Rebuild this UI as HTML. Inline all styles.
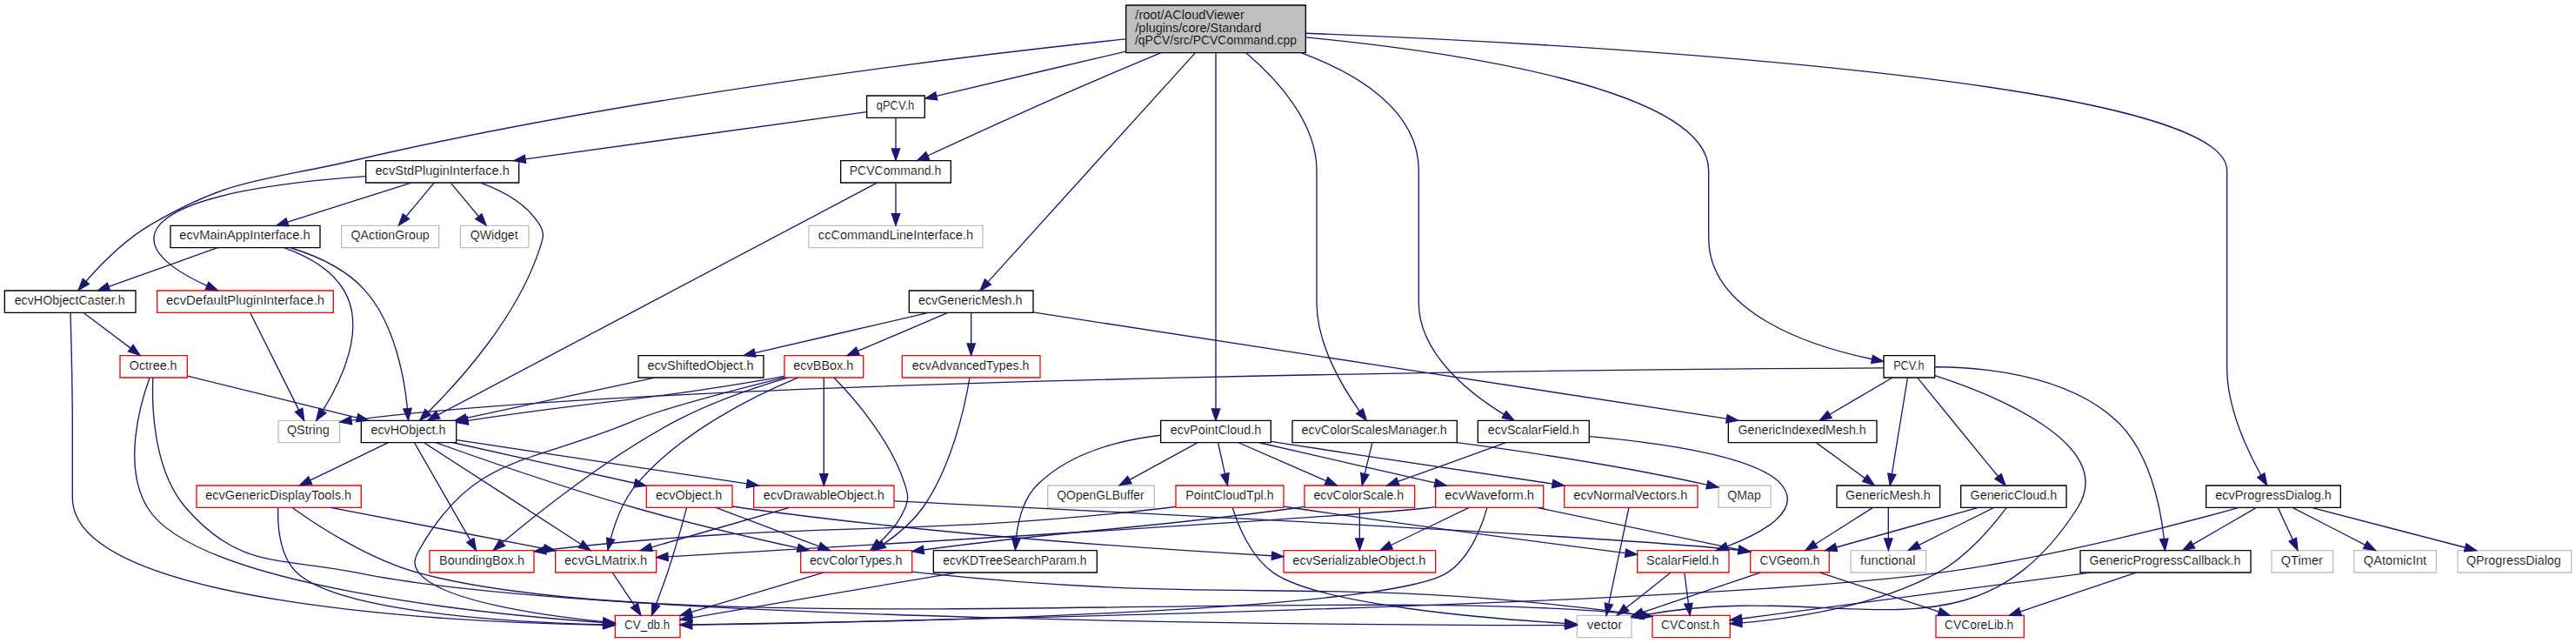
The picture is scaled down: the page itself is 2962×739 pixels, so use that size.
<!DOCTYPE html>
<html><head><meta charset="utf-8"><title>PCVCommand.cpp include graph</title>
<style>
html,body{margin:0;padding:0;background:#fff;}
body{width:2962px;height:739px;overflow:hidden;}
svg{display:block;}
svg text{font-family:"Liberation Sans",sans-serif;font-size:10.5px;fill:#000;stroke:#fff;stroke-width:0.14;}
svg g.r text{stroke:#bfbfbf;}
</style></head><body>
<svg width="2962" height="739" viewBox="0 0 2221.5 554.25">
<g transform="scale(1 1) rotate(0) translate(4 550)">
<polygon fill="white" stroke="none" points="-4,4 -4,-550 2217.5,-550 2217.5,4 -4,4"/>
<g class="r">
<polygon fill="#bfbfbf" stroke="black" points="967,-504.5 967,-545.5 1122,-545.5 1122,-504.5 967,-504.5"/>
<text text-anchor="start" x="975.00" y="-533.5" textLength="94.07" lengthAdjust="spacingAndGlyphs">/root/ACloudViewer</text>
<text text-anchor="start" x="975.00" y="-522.5" textLength="108.72" lengthAdjust="spacingAndGlyphs">/plugins/core/Standard</text>
<text text-anchor="middle" x="1044.50" y="-511.5" textLength="139.51" lengthAdjust="spacingAndGlyphs">/qPCV/src/PCVCommand.cpp</text>
</g>
<g>
<polygon fill="white" stroke="black" points="721,-392.5 721,-411.5 816,-411.5 816,-392.5 721,-392.5"/>
<text text-anchor="middle" x="768.12" y="-399.5" textLength="79.25" lengthAdjust="spacingAndGlyphs">PCVCommand.h</text>
</g>
<g>
<path fill="none" stroke="midnightblue" d="M997.27,-504.49C971.79,-493.88 939.84,-480.41 911.5,-468 871.27,-450.39 825.08,-429.22 796.34,-415.93"/>
<polygon fill="midnightblue" stroke="midnightblue" points="797.48,-412.61 786.94,-411.58 794.54,-418.96 797.48,-412.61"/>
</g>
<g>
<polygon fill="white" stroke="black" points="1620.5,-224.5 1620.5,-243.5 1664.5,-243.5 1664.5,-224.5 1620.5,-224.5"/>
<text text-anchor="middle" x="1642.12" y="-231.5" textLength="26.54" lengthAdjust="spacingAndGlyphs">PCV.h</text>
</g>
<g>
<path fill="none" stroke="midnightblue" d="M1122.45,-517.81C1245.15,-505.89 1469.5,-474.35 1469.5,-403 1469.5,-403 1469.5,-403 1469.5,-345 1469.5,-279.04 1560.16,-250.93 1610.22,-240.44"/>
<polygon fill="midnightblue" stroke="midnightblue" points="1611.11,-243.83 1620.24,-238.46 1609.75,-236.97 1611.11,-243.83"/>
</g>
<g>
<polygon fill="white" stroke="black" points="743.5,-448.5 743.5,-467.5 793.5,-467.5 793.5,-448.5 743.5,-448.5"/>
<text text-anchor="middle" x="768.12" y="-455.5" textLength="32.71" lengthAdjust="spacingAndGlyphs">qPCV.h</text>
</g>
<g>
<path fill="none" stroke="midnightblue" d="M966.88,-505.72C913.23,-493.09 844.42,-476.88 803.54,-467.25"/>
<polygon fill="midnightblue" stroke="midnightblue" points="804.31,-463.84 793.78,-464.95 802.71,-470.65 804.31,-463.84"/>
</g>
<g>
<polygon fill="white" stroke="black" points="0,-280.5 0,-299.5 113,-299.5 113,-280.5 0,-280.5"/>
<text text-anchor="middle" x="56.12" y="-287.5" textLength="95.25" lengthAdjust="spacingAndGlyphs">ecvHObjectCaster.h</text>
</g>
<g>
<path fill="none" stroke="midnightblue" d="M966.84,-516.33C830.94,-502.01 541.71,-467.54 302.5,-412 222.13,-393.34 196.65,-397.78 125.5,-356 103.67,-343.18 83.17,-322.3 70.27,-307.68"/>
<polygon fill="midnightblue" stroke="midnightblue" points="72.77,-305.21 63.61,-299.89 67.45,-309.77 72.77,-305.21"/>
</g>
<g>
<polygon fill="white" stroke="black" points="1110.5,-168.5 1110.5,-187.5 1252.5,-187.5 1252.5,-168.5 1110.5,-168.5"/>
<text text-anchor="middle" x="1181.12" y="-175.5" textLength="125.39" lengthAdjust="spacingAndGlyphs">ecvColorScalesManager.h</text>
</g>
<g>
<path fill="none" stroke="midnightblue" d="M1070.6,-504.39C1096.23,-482.7 1131.5,-445.17 1131.5,-403 1131.5,-403 1131.5,-403 1131.5,-289 1131.5,-253.18 1153.74,-216.21 1168.55,-195.56"/>
<polygon fill="midnightblue" stroke="midnightblue" points="1171.38,-197.63 1174.55,-187.52 1165.77,-193.45 1171.38,-197.63"/>
</g>
<g>
<polygon fill="white" stroke="black" points="780,-280.5 780,-299.5 887,-299.5 887,-280.5 780,-280.5"/>
<text text-anchor="middle" x="832.75" y="-287.5" textLength="89.61" lengthAdjust="spacingAndGlyphs">ecvGenericMesh.h</text>
</g>
<g>
<path fill="none" stroke="midnightblue" d="M1026.51,-504.13C985.49,-458.83 885.67,-348.61 848.11,-307.13"/>
<polygon fill="midnightblue" stroke="midnightblue" points="850.58,-304.65 841.28,-299.59 845.39,-309.35 850.58,-304.65"/>
</g>
<g>
<polygon fill="white" stroke="black" points="997,-168.5 997,-187.5 1092,-187.5 1092,-168.5 997,-168.5"/>
<text text-anchor="middle" x="1044.50" y="-175.5" textLength="78.23" lengthAdjust="spacingAndGlyphs">ecvPointCloud.h</text>
</g>
<g>
<path fill="none" stroke="midnightblue" d="M1044.5,-504.3C1044.5,-480.35 1044.5,-438.71 1044.5,-403 1044.5,-403 1044.5,-403 1044.5,-289 1044.5,-256.95 1044.5,-219.64 1044.5,-197.75"/>
<polygon fill="midnightblue" stroke="midnightblue" points="1048,-197.56 1044.5,-187.56 1041,-197.56 1048,-197.56"/>
</g>
<g>
<polygon fill="white" stroke="black" points="1898.5,-112.5 1898.5,-131.5 2014.5,-131.5 2014.5,-112.5 1898.5,-112.5"/>
<text text-anchor="middle" x="1956.50" y="-119.5" textLength="100.27" lengthAdjust="spacingAndGlyphs">ecvProgressDialog.h</text>
</g>
<g>
<path fill="none" stroke="midnightblue" d="M1122.27,-521.32C1335.99,-512.94 1916.5,-482.81 1916.5,-403 1916.5,-403 1916.5,-403 1916.5,-233 1916.5,-198.62 1933.97,-161.63 1945.82,-140.5"/>
<polygon fill="midnightblue" stroke="midnightblue" points="1948.92,-142.13 1950.94,-131.73 1942.88,-138.61 1948.92,-142.13"/>
</g>
<g>
<polygon fill="white" stroke="black" points="1270.5,-168.5 1270.5,-187.5 1366.5,-187.5 1366.5,-168.5 1270.5,-168.5"/>
<text text-anchor="middle" x="1318.50" y="-175.5" textLength="78.89" lengthAdjust="spacingAndGlyphs">ecvScalarField.h</text>
</g>
<g>
<path fill="none" stroke="midnightblue" d="M1117.96,-504.5C1165.85,-486.83 1219.5,-455.36 1219.5,-403 1219.5,-403 1219.5,-403 1219.5,-289 1219.5,-245.18 1263.44,-210.93 1292.77,-192.94"/>
<polygon fill="midnightblue" stroke="midnightblue" points="1294.86,-195.77 1301.71,-187.68 1291.31,-189.74 1294.86,-195.77"/>
</g>
<g>
<polygon fill="white" stroke="#bfbfbf" points="693.5,-336.5 693.5,-355.5 843.5,-355.5 843.5,-336.5 693.5,-336.5"/>
<text text-anchor="middle" x="768.49" y="-343.5" textLength="133.67" lengthAdjust="spacingAndGlyphs">ccCommandLineInterface.h</text>
</g>
<g>
<path fill="none" stroke="midnightblue" d="M768.5,-392.08C768.5,-385.01 768.5,-374.86 768.5,-365.99"/>
<polygon fill="midnightblue" stroke="midnightblue" points="772,-365.75 768.5,-355.75 765,-365.75 772,-365.75"/>
</g>
<g>
<polygon fill="white" stroke="black" points="307.5,-168.5 307.5,-187.5 389.5,-187.5 389.5,-168.5 307.5,-168.5"/>
<text text-anchor="middle" x="348.12" y="-175.5" textLength="64.55" lengthAdjust="spacingAndGlyphs">ecvHObject.h</text>
</g>
<g>
<path fill="none" stroke="midnightblue" d="M752.29,-392.43C688.25,-358.58 452.48,-233.96 374.06,-192.51"/>
<polygon fill="midnightblue" stroke="midnightblue" points="375.36,-189.24 364.89,-187.66 372.09,-195.43 375.36,-189.24"/>
</g>
<g>
<polygon fill="white" stroke="red" points="366.5,-56.5 366.5,-75.5 456.5,-75.5 456.5,-56.5 366.5,-56.5"/>
<text text-anchor="middle" x="411.50" y="-63.5" textLength="73.46" lengthAdjust="spacingAndGlyphs">BoundingBox.h</text>
</g>
<g>
<path fill="none" stroke="midnightblue" d="M353.44,-168.37C363.79,-150.3 387.92,-108.18 401.59,-84.31"/>
<polygon fill="midnightblue" stroke="midnightblue" points="404.65,-86.01 406.58,-75.59 398.57,-82.53 404.65,-86.01"/>
</g>
<g>
<polygon fill="white" stroke="red" points="686.5,-56.5 686.5,-75.5 782.5,-75.5 782.5,-56.5 686.5,-56.5"/>
<text text-anchor="middle" x="734.12" y="-63.5" textLength="79.85" lengthAdjust="spacingAndGlyphs">ecvColorTypes.h</text>
</g>
<g>
<path fill="none" stroke="midnightblue" d="M372.13,-168.42C408.75,-155.29 481.56,-129.85 544.5,-112 591.35,-98.71 645.45,-86.17 683.91,-77.71"/>
<polygon fill="midnightblue" stroke="midnightblue" points="684.81,-81.1 693.83,-75.55 683.32,-74.26 684.81,-81.1"/>
</g>
<g>
<polygon fill="white" stroke="red" points="646,-112.5 646,-131.5 767,-131.5 767,-112.5 646,-112.5"/>
<text text-anchor="middle" x="706.50" y="-119.5" textLength="104.18" lengthAdjust="spacingAndGlyphs">ecvDrawableObject.h</text>
</g>
<g>
<path fill="none" stroke="midnightblue" d="M389.57,-170.81C450.79,-161.57 566.62,-144.1 640.01,-133.03"/>
<polygon fill="midnightblue" stroke="midnightblue" points="640.71,-136.46 650.08,-131.51 639.67,-129.54 640.71,-136.46"/>
</g>
<g>
<polygon fill="white" stroke="red" points="475,-56.5 475,-75.5 562,-75.5 562,-56.5 475,-56.5"/>
<text text-anchor="middle" x="518.49" y="-63.5" textLength="71.38" lengthAdjust="spacingAndGlyphs">ecvGLMatrix.h</text>
</g>
<g>
<path fill="none" stroke="midnightblue" d="M361.84,-168.37C391.01,-149.49 460.72,-104.38 496.5,-81.24"/>
<polygon fill="midnightblue" stroke="midnightblue" points="498.73,-83.96 505.22,-75.59 494.93,-78.09 498.73,-83.96"/>
</g>
<g>
<polygon fill="white" stroke="red" points="165.5,-112.5 165.5,-131.5 307.5,-131.5 307.5,-112.5 165.5,-112.5"/>
<text text-anchor="middle" x="236.12" y="-119.5" textLength="126.04" lengthAdjust="spacingAndGlyphs">ecvGenericDisplayTools.h</text>
</g>
<g>
<path fill="none" stroke="midnightblue" d="M330.51,-168.32C312.46,-159.62 284.45,-146.12 263.7,-136.11"/>
<polygon fill="midnightblue" stroke="midnightblue" points="264.98,-132.84 254.45,-131.65 261.94,-139.15 264.98,-132.84"/>
</g>
<g>
<polygon fill="white" stroke="red" points="553.5,-112.5 553.5,-131.5 627.5,-131.5 627.5,-112.5 553.5,-112.5"/>
<text text-anchor="middle" x="590.12" y="-119.5" textLength="57.24" lengthAdjust="spacingAndGlyphs">ecvObject.h</text>
</g>
<g>
<path fill="none" stroke="midnightblue" d="M386.85,-168.44C429.22,-158.99 497.5,-143.75 543.18,-133.56"/>
<polygon fill="midnightblue" stroke="midnightblue" points="544.13,-136.93 553.13,-131.34 542.61,-130.1 544.13,-136.93"/>
</g>
<g>
<polygon fill="white" stroke="red" points="526.5,-0.5 526.5,-19.5 582.5,-19.5 582.5,-0.5 526.5,-0.5"/>
<text text-anchor="middle" x="554.12" y="-7.5" textLength="39.14" lengthAdjust="spacingAndGlyphs">CV_db.h</text>
</g>
<g>
<path fill="none" stroke="midnightblue" d="M705.98,-56.44C675.34,-47.25 626.51,-32.6 592.6,-22.43"/>
<polygon fill="midnightblue" stroke="midnightblue" points="593.18,-18.95 582.59,-19.43 591.16,-25.65 593.18,-18.95"/>
</g>
<g>
<polygon fill="white" stroke="red" points="1421,-0.5 1421,-19.5 1488,-19.5 1488,-0.5 1421,-0.5"/>
<text text-anchor="middle" x="1453.75" y="-7.5" textLength="50.45" lengthAdjust="spacingAndGlyphs">CVConst.h</text>
</g>
<g>
<path fill="none" stroke="midnightblue" d="M782.56,-57.18C785.92,-56.74 789.26,-56.34 792.5,-56 1063.62,-27.16 1137.19,-56.3 1410.43,-20.09"/>
<polygon fill="midnightblue" stroke="midnightblue" points="1411.21,-23.52 1420.65,-18.72 1410.28,-16.58 1411.21,-23.52"/>
</g>
<g>
<path fill="none" stroke="midnightblue" d="M676.71,-112.44C644.67,-103.24 593.57,-88.56 558.15,-78.39"/>
<polygon fill="midnightblue" stroke="midnightblue" points="558.73,-74.91 548.15,-75.52 556.79,-81.64 558.73,-74.91"/>
</g>
<g>
<polygon fill="white" stroke="red" points="1505.5,-56.5 1505.5,-75.5 1573.5,-75.5 1573.5,-56.5 1505.5,-56.5"/>
<text text-anchor="middle" x="1539.50" y="-63.5" textLength="51.61" lengthAdjust="spacingAndGlyphs">CVGeom.h</text>
</g>
<g>
<path fill="none" stroke="midnightblue" d="M767.24,-118.07C933.72,-109.95 1391.31,-87.14 1495.38,-75.83"/>
<polygon fill="midnightblue" stroke="midnightblue" points="1495.8,-79.3 1505.31,-74.64 1494.97,-72.35 1495.8,-79.3"/>
</g>
<g>
<path fill="none" stroke="midnightblue" d="M524.44,-56.08C529.48,-48.53 536.84,-37.49 543.01,-28.23"/>
<polygon fill="midnightblue" stroke="midnightblue" points="546.03,-30.01 548.67,-19.75 540.21,-26.13 546.03,-30.01"/>
</g>
<g>
<polygon fill="white" stroke="red" points="1665.5,-0.5 1665.5,-19.5 1741.5,-19.5 1741.5,-0.5 1665.5,-0.5"/>
<text text-anchor="middle" x="1702.75" y="-7.5" textLength="59.47" lengthAdjust="spacingAndGlyphs">CVCoreLib.h</text>
</g>
<g>
<path fill="none" stroke="midnightblue" d="M1565.49,-56.44C1593.2,-47.32 1637.25,-32.81 1668.12,-22.65"/>
<polygon fill="midnightblue" stroke="midnightblue" points="1669.23,-25.97 1677.64,-19.52 1667.04,-19.32 1669.23,-25.97"/>
</g>
<g>
<polygon fill="white" stroke="#bfbfbf" points="1356,-0.5 1356,-19.5 1403,-19.5 1403,-0.5 1356,-0.5"/>
<text text-anchor="middle" x="1379.88" y="-7.5" textLength="30.08" lengthAdjust="spacingAndGlyphs">vector</text>
</g>
<g>
<path fill="none" stroke="midnightblue" d="M1514.15,-56.44C1486.76,-47.2 1442.99,-32.43 1412.83,-22.25"/>
<polygon fill="midnightblue" stroke="midnightblue" points="1413.76,-18.87 1403.17,-18.99 1411.52,-25.5 1413.76,-18.87"/>
</g>
<g>
<path fill="none" stroke="midnightblue" d="M235.85,-112.34C235.31,-98.27 236.52,-70.55 252.5,-56 290.42,-21.47 443.53,-13.43 516.05,-11.56"/>
<polygon fill="midnightblue" stroke="midnightblue" points="516.23,-15.06 526.14,-11.33 516.06,-8.06 516.23,-15.06"/>
</g>
<g>
<path fill="none" stroke="midnightblue" d="M248.08,-112.39C268.77,-97.57 313.99,-67.74 357.5,-56 580.89,4.27 1163.46,-47.24 1410.58,-19.97"/>
<polygon fill="midnightblue" stroke="midnightblue" points="1411.14,-23.43 1420.66,-18.79 1410.32,-16.48 1411.14,-23.43"/>
</g>
<g>
<path fill="none" stroke="midnightblue" d="M281.18,-112.44C331.08,-102.89 411.81,-87.43 465.02,-77.24"/>
<polygon fill="midnightblue" stroke="midnightblue" points="465.79,-80.66 474.95,-75.34 464.47,-73.78 465.79,-80.66"/>
</g>
<g>
<path fill="none" stroke="midnightblue" d="M613.32,-112.44C637.33,-103.44 675.33,-89.19 702.37,-79.05"/>
<polygon fill="midnightblue" stroke="midnightblue" points="703.66,-82.3 711.79,-75.52 701.2,-75.75 703.66,-82.3"/>
</g>
<g>
<path fill="none" stroke="midnightblue" d="M588.13,-112.1C584.73,-99.52 578.14,-75.85 571.5,-56 568.52,-47.08 564.87,-37.3 561.72,-29.14"/>
<polygon fill="midnightblue" stroke="midnightblue" points="564.87,-27.59 557.96,-19.56 558.35,-30.14 564.87,-27.59"/>
</g>
<g>
<polygon fill="white" stroke="red" points="1103,-56.5 1103,-75.5 1234,-75.5 1234,-56.5 1103,-56.5"/>
<text text-anchor="middle" x="1168.12" y="-63.5" textLength="114.85" lengthAdjust="spacingAndGlyphs">ecvSerializableObject.h</text>
</g>
<g>
<path fill="none" stroke="midnightblue" d="M627.64,-113.52C630.97,-112.96 634.29,-112.44 637.5,-112 798.93,-89.77 989.59,-76.82 1092.84,-70.91"/>
<polygon fill="midnightblue" stroke="midnightblue" points="1093.07,-74.41 1102.86,-70.35 1092.68,-67.42 1093.07,-74.41"/>
</g>
<g>
<path fill="none" stroke="midnightblue" d="M1664.62,-226.33C1713.36,-210.45 1822.99,-167.53 1787.5,-112 1696.85,29.85 1584.92,-51.45 1413.27,-19.82"/>
<polygon fill="midnightblue" stroke="midnightblue" points="1413.69,-16.34 1403.21,-17.85 1412.35,-23.21 1413.69,-16.34"/>
</g>
<g>
<polygon fill="white" stroke="black" points="1687,-112.5 1687,-131.5 1778,-131.5 1778,-112.5 1687,-112.5"/>
<text text-anchor="middle" x="1732.49" y="-119.5" textLength="74.71" lengthAdjust="spacingAndGlyphs">GenericCloud.h</text>
</g>
<g>
<path fill="none" stroke="midnightblue" d="M1649.56,-224.37C1664.55,-206.05 1699.73,-163.05 1719.11,-139.36"/>
<polygon fill="midnightblue" stroke="midnightblue" points="1721.85,-141.55 1725.47,-131.59 1716.43,-137.11 1721.85,-141.55"/>
</g>
<g>
<polygon fill="white" stroke="black" points="1486.5,-168.5 1486.5,-187.5 1614.5,-187.5 1614.5,-168.5 1486.5,-168.5"/>
<text text-anchor="middle" x="1550.12" y="-175.5" textLength="110.40" lengthAdjust="spacingAndGlyphs">GenericIndexedMesh.h</text>
</g>
<g>
<path fill="none" stroke="midnightblue" d="M1627.72,-224.32C1613.23,-215.82 1590.93,-202.73 1574.01,-192.8"/>
<polygon fill="midnightblue" stroke="midnightblue" points="1575.64,-189.7 1565.24,-187.65 1572.1,-195.74 1575.64,-189.7"/>
</g>
<g>
<polygon fill="white" stroke="black" points="1580,-112.5 1580,-131.5 1669,-131.5 1669,-112.5 1580,-112.5"/>
<text text-anchor="middle" x="1624.12" y="-119.5" textLength="73.28" lengthAdjust="spacingAndGlyphs">GenericMesh.h</text>
</g>
<g>
<path fill="none" stroke="midnightblue" d="M1641.09,-224.37C1638.18,-206.62 1631.48,-165.67 1627.54,-141.6"/>
<polygon fill="midnightblue" stroke="midnightblue" points="1630.97,-140.89 1625.91,-131.59 1624.07,-142.03 1630.97,-140.89"/>
</g>
<g>
<polygon fill="white" stroke="black" points="1790,-56.5 1790,-75.5 1937,-75.5 1937,-56.5 1790,-56.5"/>
<text text-anchor="middle" x="1863.12" y="-63.5" textLength="130.42" lengthAdjust="spacingAndGlyphs">GenericProgressCallback.h</text>
</g>
<g>
<path fill="none" stroke="midnightblue" d="M1664.72,-233.7C1701.76,-233.64 1776.42,-228.12 1820.5,-188 1850.08,-161.07 1859.32,-112.44 1862.2,-85.77"/>
<polygon fill="midnightblue" stroke="midnightblue" points="1865.71,-85.78 1863.11,-75.51 1858.74,-85.16 1865.71,-85.78"/>
</g>
<g>
<polygon fill="white" stroke="#bfbfbf" points="236,-168.5 236,-187.5 289,-187.5 289,-168.5 236,-168.5"/>
<text text-anchor="middle" x="261.75" y="-175.5" textLength="36.66" lengthAdjust="spacingAndGlyphs">QString</text>
</g>
<g>
<path fill="none" stroke="midnightblue" d="M1620.42,-232.9C1469.71,-232.12 589.98,-226.05 299.21,-187.7"/>
<polygon fill="midnightblue" stroke="midnightblue" points="299.49,-184.2 289.11,-186.32 298.55,-191.14 299.49,-184.2"/>
</g>
<g>
<path fill="none" stroke="midnightblue" d="M1726.3,-112.26C1715.75,-98.06 1692.84,-70.17 1666.5,-56 1613.12,-27.29 1542.98,-16.89 1498.3,-13.13"/>
<polygon fill="midnightblue" stroke="midnightblue" points="1498.31,-9.62 1488.07,-12.35 1497.78,-16.6 1498.31,-9.62"/>
</g>
<g>
<path fill="none" stroke="midnightblue" d="M1701.92,-112.44C1668.89,-103.2 1616.11,-88.44 1579.73,-78.26"/>
<polygon fill="midnightblue" stroke="midnightblue" points="1580.51,-74.84 1569.94,-75.52 1578.63,-81.58 1580.51,-74.84"/>
</g>
<g>
<polygon fill="white" stroke="#bfbfbf" points="1592,-56.5 1592,-75.5 1657,-75.5 1657,-56.5 1592,-56.5"/>
<text text-anchor="middle" x="1624.12" y="-63.5" textLength="47.61" lengthAdjust="spacingAndGlyphs">functional</text>
</g>
<g>
<path fill="none" stroke="midnightblue" d="M1715.15,-112.32C1697.83,-103.66 1670.98,-90.24 1651,-80.25"/>
<polygon fill="midnightblue" stroke="midnightblue" points="1652.32,-77 1641.81,-75.65 1649.19,-83.26 1652.32,-77"/>
</g>
<g>
<path fill="none" stroke="midnightblue" d="M1562.39,-168.32C1573.65,-160.11 1590.79,-147.6 1604.21,-137.81"/>
<polygon fill="midnightblue" stroke="midnightblue" points="1606.38,-140.56 1612.39,-131.83 1602.25,-134.9 1606.38,-140.56"/>
</g>
<g>
<path fill="none" stroke="midnightblue" d="M1610.84,-112.32C1597.58,-103.9 1577.23,-90.97 1561.65,-81.07"/>
<polygon fill="midnightblue" stroke="midnightblue" points="1563.44,-78.06 1553.12,-75.65 1559.69,-83.97 1563.44,-78.06"/>
</g>
<g>
<path fill="none" stroke="midnightblue" d="M1624.5,-112.08C1624.5,-105.01 1624.5,-94.86 1624.5,-85.99"/>
<polygon fill="midnightblue" stroke="midnightblue" points="1628,-85.75 1624.5,-75.75 1621,-85.75 1628,-85.75"/>
</g>
<g>
<path fill="none" stroke="midnightblue" d="M1798.69,-56.44C1714.64,-45.35 1570.28,-26.29 1498.17,-16.77"/>
<polygon fill="midnightblue" stroke="midnightblue" points="1498.44,-13.27 1488.07,-15.43 1497.52,-20.21 1498.44,-13.27"/>
</g>
<g>
<path fill="none" stroke="midnightblue" d="M1838.15,-56.44C1811.23,-47.36 1768.5,-32.94 1738.41,-22.78"/>
<polygon fill="midnightblue" stroke="midnightblue" points="1739.33,-19.4 1728.73,-19.52 1737.09,-26.03 1739.33,-19.4"/>
</g>
<g>
<path fill="none" stroke="midnightblue" d="M768.5,-448.08C768.5,-441.01 768.5,-430.86 768.5,-421.99"/>
<polygon fill="midnightblue" stroke="midnightblue" points="772,-421.75 768.5,-411.75 765,-421.75 772,-421.75"/>
</g>
<g>
<polygon fill="white" stroke="black" points="311.5,-392.5 311.5,-411.5 443.5,-411.5 443.5,-392.5 311.5,-392.5"/>
<text text-anchor="middle" x="377.50" y="-399.5" textLength="115.75" lengthAdjust="spacingAndGlyphs">ecvStdPluginInterface.h</text>
</g>
<g>
<path fill="none" stroke="midnightblue" d="M743.45,-453.54C685.02,-445.47 537.97,-425.16 449.07,-412.88"/>
<polygon fill="midnightblue" stroke="midnightblue" points="449.45,-409.4 439.06,-411.5 448.49,-416.34 449.45,-409.4"/>
</g>
<g>
<path fill="none" stroke="midnightblue" d="M410.49,-392.44C428.96,-385.77 450.45,-374.45 461.5,-356 466.07,-348.37 464.23,-344.46 461.5,-336 442.45,-276.91 391.98,-221.29 365.41,-194.94"/>
<polygon fill="midnightblue" stroke="midnightblue" points="367.6,-192.19 357.99,-187.73 362.72,-197.21 367.6,-192.19"/>
</g>
<g>
<polygon fill="white" stroke="#bfbfbf" points="290.5,-336.5 290.5,-355.5 374.5,-355.5 374.5,-336.5 290.5,-336.5"/>
<text text-anchor="middle" x="332.50" y="-343.5" textLength="67.68" lengthAdjust="spacingAndGlyphs">QActionGroup</text>
</g>
<g>
<path fill="none" stroke="midnightblue" d="M370.07,-392.08C363.65,-384.38 354.19,-373.03 346.38,-363.65"/>
<polygon fill="midnightblue" stroke="midnightblue" points="348.88,-361.19 339.79,-355.75 343.51,-365.67 348.88,-361.19"/>
</g>
<g>
<polygon fill="white" stroke="#bfbfbf" points="393,-336.5 393,-355.5 452,-355.5 452,-336.5 393,-336.5"/>
<text text-anchor="middle" x="422.12" y="-343.5" textLength="41.13" lengthAdjust="spacingAndGlyphs">QWidget</text>
</g>
<g>
<path fill="none" stroke="midnightblue" d="M384.93,-392.08C391.35,-384.38 400.81,-373.03 408.62,-363.65"/>
<polygon fill="midnightblue" stroke="midnightblue" points="411.49,-365.67 415.21,-355.75 406.12,-361.19 411.49,-365.67"/>
</g>
<g>
<polygon fill="white" stroke="red" points="131.5,-280.5 131.5,-299.5 283.5,-299.5 283.5,-280.5 131.5,-280.5"/>
<text text-anchor="middle" x="207.50" y="-287.5" textLength="136.61" lengthAdjust="spacingAndGlyphs">ecvDefaultPluginInterface.h</text>
</g>
<g>
<path fill="none" stroke="midnightblue" d="M311.4,-398.06C247.04,-393.65 155.75,-382.73 133.5,-356 116.47,-335.54 147.51,-315.93 174.45,-303.7"/>
<polygon fill="midnightblue" stroke="midnightblue" points="175.94,-306.88 183.73,-299.7 173.16,-300.45 175.94,-306.88"/>
</g>
<g>
<polygon fill="white" stroke="black" points="143,-336.5 143,-355.5 272,-355.5 272,-336.5 143,-336.5"/>
<text text-anchor="middle" x="207.12" y="-343.5" textLength="112.79" lengthAdjust="spacingAndGlyphs">ecvMainAppInterface.h</text>
</g>
<g>
<path fill="none" stroke="midnightblue" d="M350.56,-392.44C321.84,-383.32 276.17,-368.81 244.18,-358.65"/>
<polygon fill="midnightblue" stroke="midnightblue" points="244.9,-355.21 234.31,-355.52 242.78,-361.88 244.9,-355.21"/>
</g>
<g>
<path fill="none" stroke="midnightblue" d="M211.82,-280.37C220.81,-262.38 241.72,-220.55 253.69,-196.63"/>
<polygon fill="midnightblue" stroke="midnightblue" points="256.86,-198.1 258.2,-187.59 250.6,-194.97 256.86,-198.1"/>
</g>
<g>
<path fill="none" stroke="midnightblue" d="M246.48,-336.44C268.06,-329.84 293.81,-318.59 310.5,-300 336.64,-270.88 344.8,-223.89 347.35,-197.86"/>
<polygon fill="midnightblue" stroke="midnightblue" points="350.84,-198.06 348.15,-187.81 343.86,-197.5 350.84,-198.06"/>
</g>
<g>
<path fill="none" stroke="midnightblue" d="M241.3,-336.39C259.89,-329.74 281.39,-318.45 292.5,-300 312.51,-266.77 289.8,-220.77 274.38,-196.16"/>
<polygon fill="midnightblue" stroke="midnightblue" points="277.15,-194.01 268.74,-187.57 271.3,-197.85 277.15,-194.01"/>
</g>
<g>
<path fill="none" stroke="midnightblue" d="M183.57,-336.44C158.28,-327.4 118.2,-313.06 89.82,-302.92"/>
<polygon fill="midnightblue" stroke="midnightblue" points="90.91,-299.59 80.31,-299.52 88.55,-306.18 90.91,-299.59"/>
</g>
<g>
<path fill="none" stroke="midnightblue" d="M56.76,-280.44C57.3,-261.94 58.5,-216.82 58.5,-179 58.5,-179 58.5,-179 58.5,-121 58.5,-27.34 399.84,-13.37 516.19,-11.33"/>
<polygon fill="midnightblue" stroke="midnightblue" points="516.47,-14.83 526.41,-11.18 516.36,-7.83 516.47,-14.83"/>
</g>
<g>
<polygon fill="white" stroke="red" points="99.5,-224.5 99.5,-243.5 157.5,-243.5 157.5,-224.5 99.5,-224.5"/>
<text text-anchor="middle" x="128.12" y="-231.5" textLength="41.05" lengthAdjust="spacingAndGlyphs">Octree.h</text>
</g>
<g>
<path fill="none" stroke="midnightblue" d="M68.07,-280.32C78.92,-272.18 95.38,-259.84 108.38,-250.09"/>
<polygon fill="midnightblue" stroke="midnightblue" points="110.82,-252.63 116.72,-243.83 106.62,-247.03 110.82,-252.63"/>
</g>
<g>
<path fill="none" stroke="midnightblue" d="M157.71,-225.83C195.12,-216.65 260.32,-200.64 303.94,-189.94"/>
<polygon fill="midnightblue" stroke="midnightblue" points="304.84,-193.32 313.72,-187.54 303.17,-186.52 304.84,-193.32"/>
</g>
<g>
<path fill="none" stroke="midnightblue" d="M125.05,-224.25C117.33,-203.1 101,-148.27 123.5,-112 165.23,-44.74 418.87,-20.33 516.37,-13.36"/>
<polygon fill="midnightblue" stroke="midnightblue" points="516.65,-16.85 526.38,-12.66 516.17,-9.86 516.65,-16.85"/>
</g>
<g>
<path fill="none" stroke="midnightblue" d="M127.92,-224.47C126.94,-202.84 127.38,-145.25 156.5,-112 203.11,-58.78 236.18,-70.1 305.5,-56 511.53,-14.09 1186.9,-11.09 1345.8,-10.98"/>
<polygon fill="midnightblue" stroke="midnightblue" points="1345.93,-14.48 1355.93,-10.97 1345.93,-7.48 1345.93,-14.48"/>
</g>
<g>
<polygon fill="white" stroke="red" points="1121,-112.5 1121,-131.5 1216,-131.5 1216,-112.5 1121,-112.5"/>
<text text-anchor="middle" x="1167.75" y="-119.5" textLength="77.86" lengthAdjust="spacingAndGlyphs">ecvColorScale.h</text>
</g>
<g>
<path fill="none" stroke="midnightblue" d="M1179.35,-168.08C1177.63,-160.93 1175.15,-150.64 1173,-141.69"/>
<polygon fill="midnightblue" stroke="midnightblue" points="1176.35,-140.65 1170.61,-131.75 1169.54,-142.29 1176.35,-140.65"/>
</g>
<g>
<polygon fill="white" stroke="#bfbfbf" points="1478,-112.5 1478,-131.5 1523,-131.5 1523,-112.5 1478,-112.5"/>
<text text-anchor="middle" x="1500.12" y="-119.5" textLength="28.92" lengthAdjust="spacingAndGlyphs">QMap</text>
</g>
<g>
<path fill="none" stroke="midnightblue" d="M1252.39,-168.49C1308.58,-161.15 1389.2,-149.33 1467.82,-132.16"/>
<polygon fill="midnightblue" stroke="midnightblue" points="1468.89,-135.5 1477.9,-129.92 1467.38,-128.67 1468.89,-135.5"/>
</g>
<g>
<path fill="none" stroke="midnightblue" d="M1120.86,-113.19C1118.04,-112.77 1115.23,-112.37 1112.5,-112 970.7,-92.64 934.36,-94.98 792.5,-76 792.4,-75.99 792.3,-75.97 792.2,-75.96"/>
<polygon fill="midnightblue" stroke="midnightblue" points="792.97,-72.53 782.58,-74.62 792.01,-79.47 792.97,-72.53"/>
</g>
<g>
<path fill="none" stroke="midnightblue" d="M1168.5,-112.08C1168.5,-105.01 1168.5,-94.86 1168.5,-85.99"/>
<polygon fill="midnightblue" stroke="midnightblue" points="1172,-85.75 1168.5,-75.75 1165,-85.75 1172,-85.75"/>
</g>
<g>
<path fill="none" stroke="midnightblue" d="M887.1,-280.78C1016.19,-260.97 1344.04,-210.67 1484.73,-189.09"/>
<polygon fill="midnightblue" stroke="midnightblue" points="1485.58,-192.5 1494.94,-187.52 1484.52,-185.58 1485.58,-192.5"/>
</g>
<g>
<polygon fill="white" stroke="red" points="774,-224.5 774,-243.5 893,-243.5 893,-224.5 774,-224.5"/>
<text text-anchor="middle" x="833.12" y="-231.5" textLength="100.98" lengthAdjust="spacingAndGlyphs">ecvAdvancedTypes.h</text>
</g>
<g>
<path fill="none" stroke="midnightblue" d="M833.5,-280.08C833.5,-273.01 833.5,-262.86 833.5,-253.99"/>
<polygon fill="midnightblue" stroke="midnightblue" points="837,-253.75 833.5,-243.75 830,-253.75 837,-253.75"/>
</g>
<g>
<polygon fill="white" stroke="red" points="672.5,-224.5 672.5,-243.5 740.5,-243.5 740.5,-224.5 672.5,-224.5"/>
<text text-anchor="middle" x="706.12" y="-231.5" textLength="51.82" lengthAdjust="spacingAndGlyphs">ecvBBox.h</text>
</g>
<g>
<path fill="none" stroke="midnightblue" d="M813.38,-280.44C792.48,-271.56 759.57,-257.56 735.78,-247.45"/>
<polygon fill="midnightblue" stroke="midnightblue" points="737.1,-244.21 726.53,-243.52 734.36,-250.65 737.1,-244.21"/>
</g>
<g>
<polygon fill="white" stroke="black" points="546.5,-224.5 546.5,-243.5 654.5,-243.5 654.5,-224.5 546.5,-224.5"/>
<text text-anchor="middle" x="600.12" y="-231.5" textLength="91.48" lengthAdjust="spacingAndGlyphs">ecvShiftedObject.h</text>
</g>
<g>
<path fill="none" stroke="midnightblue" d="M796.58,-280.44C756.1,-271.06 691.08,-255.99 647.12,-245.8"/>
<polygon fill="midnightblue" stroke="midnightblue" points="647.78,-242.36 637.25,-243.52 646.2,-249.18 647.78,-242.36"/>
</g>
<g>
<path fill="none" stroke="midnightblue" d="M832.21,-224.32C828.74,-203.32 817.67,-148.78 791.5,-112 782.73,-99.68 769.67,-89.02 758.26,-81.18"/>
<polygon fill="midnightblue" stroke="midnightblue" points="759.87,-78.05 749.58,-75.51 756.04,-83.91 759.87,-78.05"/>
</g>
<g>
<path fill="none" stroke="midnightblue" d="M672.27,-225.61C669.31,-225.04 666.36,-224.5 663.5,-224 548.56,-204.04 518.85,-205.42 403.5,-188 402.24,-187.81 400.95,-187.61 399.66,-187.42"/>
<polygon fill="midnightblue" stroke="midnightblue" points="400.05,-183.93 389.63,-185.84 398.97,-190.85 400.05,-183.93"/>
</g>
<g>
<path fill="none" stroke="midnightblue" d="M675.2,-224.48C649.07,-216.75 611.27,-204.1 580.5,-188 521.14,-156.93 458.99,-107.28 429.32,-82.34"/>
<polygon fill="midnightblue" stroke="midnightblue" points="431.4,-79.52 421.51,-75.72 426.87,-84.86 431.4,-79.52"/>
</g>
<g>
<path fill="none" stroke="midnightblue" d="M715.39,-224.29C731.36,-207.97 764.34,-170.89 776.5,-132 779.15,-123.52 779.76,-120.27 776.5,-112 771.99,-100.55 763.03,-90.29 754.55,-82.47"/>
<polygon fill="midnightblue" stroke="midnightblue" points="756.59,-79.61 746.71,-75.76 752.03,-84.93 756.59,-79.61"/>
</g>
<g>
<path fill="none" stroke="midnightblue" d="M672.37,-224.67C632.01,-214.61 567.44,-197.84 544.5,-188 455.47,-149.8 405.26,-160.28 357.5,-76 353.12,-68.27 351.96,-62.95 357.5,-56 376.94,-31.62 464.36,-19.4 515.99,-14.21"/>
<polygon fill="midnightblue" stroke="midnightblue" points="516.49,-17.68 526.11,-13.23 515.82,-10.71 516.49,-17.68"/>
</g>
<g>
<path fill="none" stroke="midnightblue" d="M706.5,-224.37C706.5,-206.62 706.5,-165.67 706.5,-141.6"/>
<polygon fill="midnightblue" stroke="midnightblue" points="710,-141.59 706.5,-131.59 703,-141.59 710,-141.59"/>
</g>
<g>
<path fill="none" stroke="midnightblue" d="M683.99,-224.39C649.48,-210.14 583.43,-178.51 544.5,-132 533.3,-118.62 526.48,-99.79 522.66,-85.85"/>
<polygon fill="midnightblue" stroke="midnightblue" points="526,-84.77 520.2,-75.9 519.2,-86.45 526,-84.77"/>
</g>
<g>
<path fill="none" stroke="midnightblue" d="M560.57,-224.44C516.61,-215.02 445.87,-199.87 398.32,-189.68"/>
<polygon fill="midnightblue" stroke="midnightblue" points="398.75,-186.19 388.24,-187.52 397.29,-193.03 398.75,-186.19"/>
</g>
<g>
<path fill="none" stroke="midnightblue" d="M1064.15,-168.44C1084.46,-159.6 1116.4,-145.69 1139.6,-135.59"/>
<polygon fill="midnightblue" stroke="midnightblue" points="1141.17,-138.72 1148.94,-131.52 1138.38,-132.3 1141.17,-138.72"/>
</g>
<g>
<polygon fill="white" stroke="red" points="1010,-112.5 1010,-131.5 1103,-131.5 1103,-112.5 1010,-112.5"/>
<text text-anchor="middle" x="1056.50" y="-119.5" textLength="75.96" lengthAdjust="spacingAndGlyphs">PointCloudTpl.h</text>
</g>
<g>
<path fill="none" stroke="midnightblue" d="M1046.48,-168.08C1048.07,-160.93 1050.36,-150.64 1052.35,-141.69"/>
<polygon fill="midnightblue" stroke="midnightblue" points="1055.8,-142.27 1054.56,-131.75 1048.97,-140.75 1055.8,-142.27"/>
</g>
<g>
<polygon fill="white" stroke="black" points="801,-56.5 801,-75.5 942,-75.5 942,-56.5 801,-56.5"/>
<text text-anchor="middle" x="871.12" y="-63.5" textLength="123.88" lengthAdjust="spacingAndGlyphs">ecvKDTreeSearchParam.h</text>
</g>
<g>
<path fill="none" stroke="midnightblue" d="M996.72,-174.81C962.79,-170.75 918.47,-159.97 890.5,-132 878.43,-119.93 873.94,-100.64 872.31,-86.21"/>
<polygon fill="midnightblue" stroke="midnightblue" points="875.78,-85.61 871.53,-75.9 868.8,-86.14 875.78,-85.61"/>
</g>
<g>
<polygon fill="white" stroke="red" points="1345,-112.5 1345,-131.5 1460,-131.5 1460,-112.5 1345,-112.5"/>
<text text-anchor="middle" x="1402.12" y="-119.5" textLength="98.28" lengthAdjust="spacingAndGlyphs">ecvNormalVectors.h</text>
</g>
<g>
<path fill="none" stroke="midnightblue" d="M1092.08,-169.46C1095.27,-168.96 1098.43,-168.47 1101.5,-168 1181.64,-155.68 1273.86,-141.96 1334.88,-132.95"/>
<polygon fill="midnightblue" stroke="midnightblue" points="1335.39,-136.41 1344.78,-131.49 1334.37,-129.48 1335.39,-136.41"/>
</g>
<g>
<polygon fill="white" stroke="red" points="1234,-112.5 1234,-131.5 1327,-131.5 1327,-112.5 1234,-112.5"/>
<text text-anchor="middle" x="1280.50" y="-119.5" textLength="77.17" lengthAdjust="spacingAndGlyphs">ecvWaveform.h</text>
</g>
<g>
<path fill="none" stroke="midnightblue" d="M1081.89,-168.44C1122.89,-159.06 1188.75,-143.99 1233.28,-133.8"/>
<polygon fill="midnightblue" stroke="midnightblue" points="1234.31,-137.16 1243.28,-131.52 1232.75,-130.34 1234.31,-137.16"/>
</g>
<g>
<polygon fill="white" stroke="#bfbfbf" points="899.5,-112.5 899.5,-131.5 991.5,-131.5 991.5,-112.5 899.5,-112.5"/>
<text text-anchor="middle" x="945.12" y="-119.5" textLength="75.31" lengthAdjust="spacingAndGlyphs">QOpenGLBuffer</text>
</g>
<g>
<path fill="none" stroke="midnightblue" d="M1028.59,-168.32C1012.86,-159.74 988.56,-146.49 970.29,-136.52"/>
<polygon fill="midnightblue" stroke="midnightblue" points="971.82,-133.37 961.37,-131.65 968.47,-139.52 971.82,-133.37"/>
</g>
<g>
<path fill="none" stroke="midnightblue" d="M1009.79,-113.16C1006.65,-112.74 1003.53,-112.35 1000.5,-112 767.39,-85.47 704.52,-102.75 466.76,-75.9"/>
<polygon fill="midnightblue" stroke="midnightblue" points="467.11,-72.42 456.77,-74.76 466.31,-79.37 467.11,-72.42"/>
</g>
<g>
<path fill="none" stroke="midnightblue" d="M1058.97,-112.15C1063.46,-97.81 1074.42,-69.71 1094.5,-56 1134.76,-28.5 1278.58,-16.8 1345.19,-12.78"/>
<polygon fill="midnightblue" stroke="midnightblue" points="1345.79,-16.25 1355.57,-12.17 1345.38,-9.26 1345.79,-16.25"/>
</g>
<g>
<polygon fill="white" stroke="red" points="1408,-56.5 1408,-75.5 1487,-75.5 1487,-56.5 1408,-56.5"/>
<text text-anchor="middle" x="1447.12" y="-63.5" textLength="62.56" lengthAdjust="spacingAndGlyphs">ScalarField.h</text>
</g>
<g>
<path fill="none" stroke="midnightblue" d="M1103.24,-113.4C1106.37,-112.91 1109.48,-112.45 1112.5,-112 1213.62,-97.09 1332.22,-81.63 1397.7,-73.28"/>
<polygon fill="midnightblue" stroke="midnightblue" points="1398.27,-76.74 1407.75,-72 1397.38,-69.79 1398.27,-76.74"/>
</g>
<g>
<path fill="none" stroke="midnightblue" d="M1448.66,-56.08C1449.58,-48.93 1450.92,-38.64 1452.08,-29.69"/>
<polygon fill="midnightblue" stroke="midnightblue" points="1455.55,-30.12 1453.37,-19.75 1448.61,-29.22 1455.55,-30.12"/>
</g>
<g>
<path fill="none" stroke="midnightblue" d="M1436.57,-56.32C1426.33,-48.18 1410.78,-35.84 1398.5,-26.09"/>
<polygon fill="midnightblue" stroke="midnightblue" points="1400.63,-23.31 1390.62,-19.83 1396.28,-28.79 1400.63,-23.31"/>
</g>
<g>
<path fill="none" stroke="midnightblue" d="M821.27,-56.44C757.83,-45.64 650.06,-27.28 592.85,-17.53"/>
<polygon fill="midnightblue" stroke="midnightblue" points="593.22,-14.05 582.77,-15.82 592.04,-20.95 593.22,-14.05"/>
</g>
<g>
<path fill="none" stroke="midnightblue" d="M1400.7,-112.37C1396.98,-94.62 1388.42,-53.67 1383.39,-29.6"/>
<polygon fill="midnightblue" stroke="midnightblue" points="1386.77,-28.66 1381.3,-19.59 1379.92,-30.1 1386.77,-28.66"/>
</g>
<g>
<path fill="none" stroke="midnightblue" d="M1278.44,-112.42C1274.45,-97.94 1264.19,-68.95 1243.5,-56 1188.23,-21.4 729.19,-13.11 592.66,-11.4"/>
<polygon fill="midnightblue" stroke="midnightblue" points="592.7,-7.9 582.66,-11.28 592.62,-14.9 592.7,-7.9"/>
</g>
<g>
<path fill="none" stroke="midnightblue" d="M1233.74,-113.03C1230.95,-112.65 1228.19,-112.31 1225.5,-112 1161.29,-104.72 725.99,-79.06 572.19,-70.11"/>
<polygon fill="midnightblue" stroke="midnightblue" points="572.23,-66.61 562.04,-69.52 571.82,-73.59 572.23,-66.61"/>
</g>
<g>
<path fill="none" stroke="midnightblue" d="M1321.51,-112.47C1362.92,-103.85 1429.01,-90.09 1495.43,-76.22"/>
<polygon fill="midnightblue" stroke="midnightblue" points="1496.16,-79.65 1505.23,-74.18 1494.73,-72.79 1496.16,-79.65"/>
</g>
<g>
<path fill="none" stroke="midnightblue" d="M1262.51,-112.32C1244.46,-103.62 1216.45,-90.12 1195.7,-80.11"/>
<polygon fill="midnightblue" stroke="midnightblue" points="1196.98,-76.84 1186.45,-75.65 1193.94,-83.15 1196.98,-76.84"/>
</g>
<g>
<path fill="none" stroke="midnightblue" d="M1926.76,-112.47C1874.59,-97.91 1762.93,-68.65 1666.5,-56 1452.23,-27.88 763.32,-14.54 592.9,-11.63"/>
<polygon fill="midnightblue" stroke="midnightblue" points="592.72,-8.12 582.66,-11.45 592.6,-15.12 592.72,-8.12"/>
</g>
<g>
<path fill="none" stroke="midnightblue" d="M1941.56,-112.32C1926.91,-103.82 1904.37,-90.73 1887.26,-80.8"/>
<polygon fill="midnightblue" stroke="midnightblue" points="1888.81,-77.65 1878.4,-75.65 1885.3,-83.7 1888.81,-77.65"/>
</g>
<g>
<polygon fill="white" stroke="#bfbfbf" points="2026,-56.5 2026,-75.5 2097,-75.5 2097,-56.5 2026,-56.5"/>
<text text-anchor="middle" x="2061.50" y="-63.5" textLength="54.24" lengthAdjust="spacingAndGlyphs">QAtomicInt</text>
</g>
<g>
<path fill="none" stroke="midnightblue" d="M1973.37,-112.32C1990.21,-103.66 2016.31,-90.24 2035.74,-80.25"/>
<polygon fill="midnightblue" stroke="midnightblue" points="2037.38,-83.34 2044.67,-75.65 2034.18,-77.12 2037.38,-83.34"/>
</g>
<g>
<polygon fill="white" stroke="#bfbfbf" points="2115.5,-56.5 2115.5,-75.5 2213.5,-75.5 2213.5,-56.5 2115.5,-56.5"/>
<text text-anchor="middle" x="2163.75" y="-63.5" textLength="81.59" lengthAdjust="spacingAndGlyphs">QProgressDialog</text>
</g>
<g>
<path fill="none" stroke="midnightblue" d="M1989.46,-112.44C2025.29,-103.14 2082.66,-88.25 2121.89,-78.06"/>
<polygon fill="midnightblue" stroke="midnightblue" points="2122.9,-81.42 2131.7,-75.52 2121.14,-74.64 2122.9,-81.42"/>
</g>
<g>
<polygon fill="white" stroke="#bfbfbf" points="1955,-56.5 1955,-75.5 2008,-75.5 2008,-56.5 1955,-56.5"/>
<text text-anchor="middle" x="1981.12" y="-63.5" textLength="36.18" lengthAdjust="spacingAndGlyphs">QTimer</text>
</g>
<g>
<path fill="none" stroke="midnightblue" d="M1960.63,-112.08C1964.01,-104.77 1968.92,-94.18 1973.12,-85.1"/>
<polygon fill="midnightblue" stroke="midnightblue" points="1976.42,-86.3 1977.45,-75.75 1970.07,-83.36 1976.42,-86.3"/>
</g>
<g>
<path fill="none" stroke="midnightblue" d="M1294.73,-168.44C1269.61,-159.4 1229.79,-145.06 1201.6,-134.92"/>
<polygon fill="midnightblue" stroke="midnightblue" points="1202.75,-131.61 1192.16,-131.52 1200.38,-138.2 1202.75,-131.61"/>
</g>
<g>
<path fill="none" stroke="midnightblue" d="M1366.85,-173.75C1423.43,-168.82 1512.04,-157.2 1532.5,-132 1550.56,-109.74 1515.97,-90.7 1485.64,-79.09"/>
<polygon fill="midnightblue" stroke="midnightblue" points="1486.6,-75.71 1476.01,-75.58 1484.21,-82.29 1486.6,-75.71"/>
</g>
</g>
</svg>

</body></html>
